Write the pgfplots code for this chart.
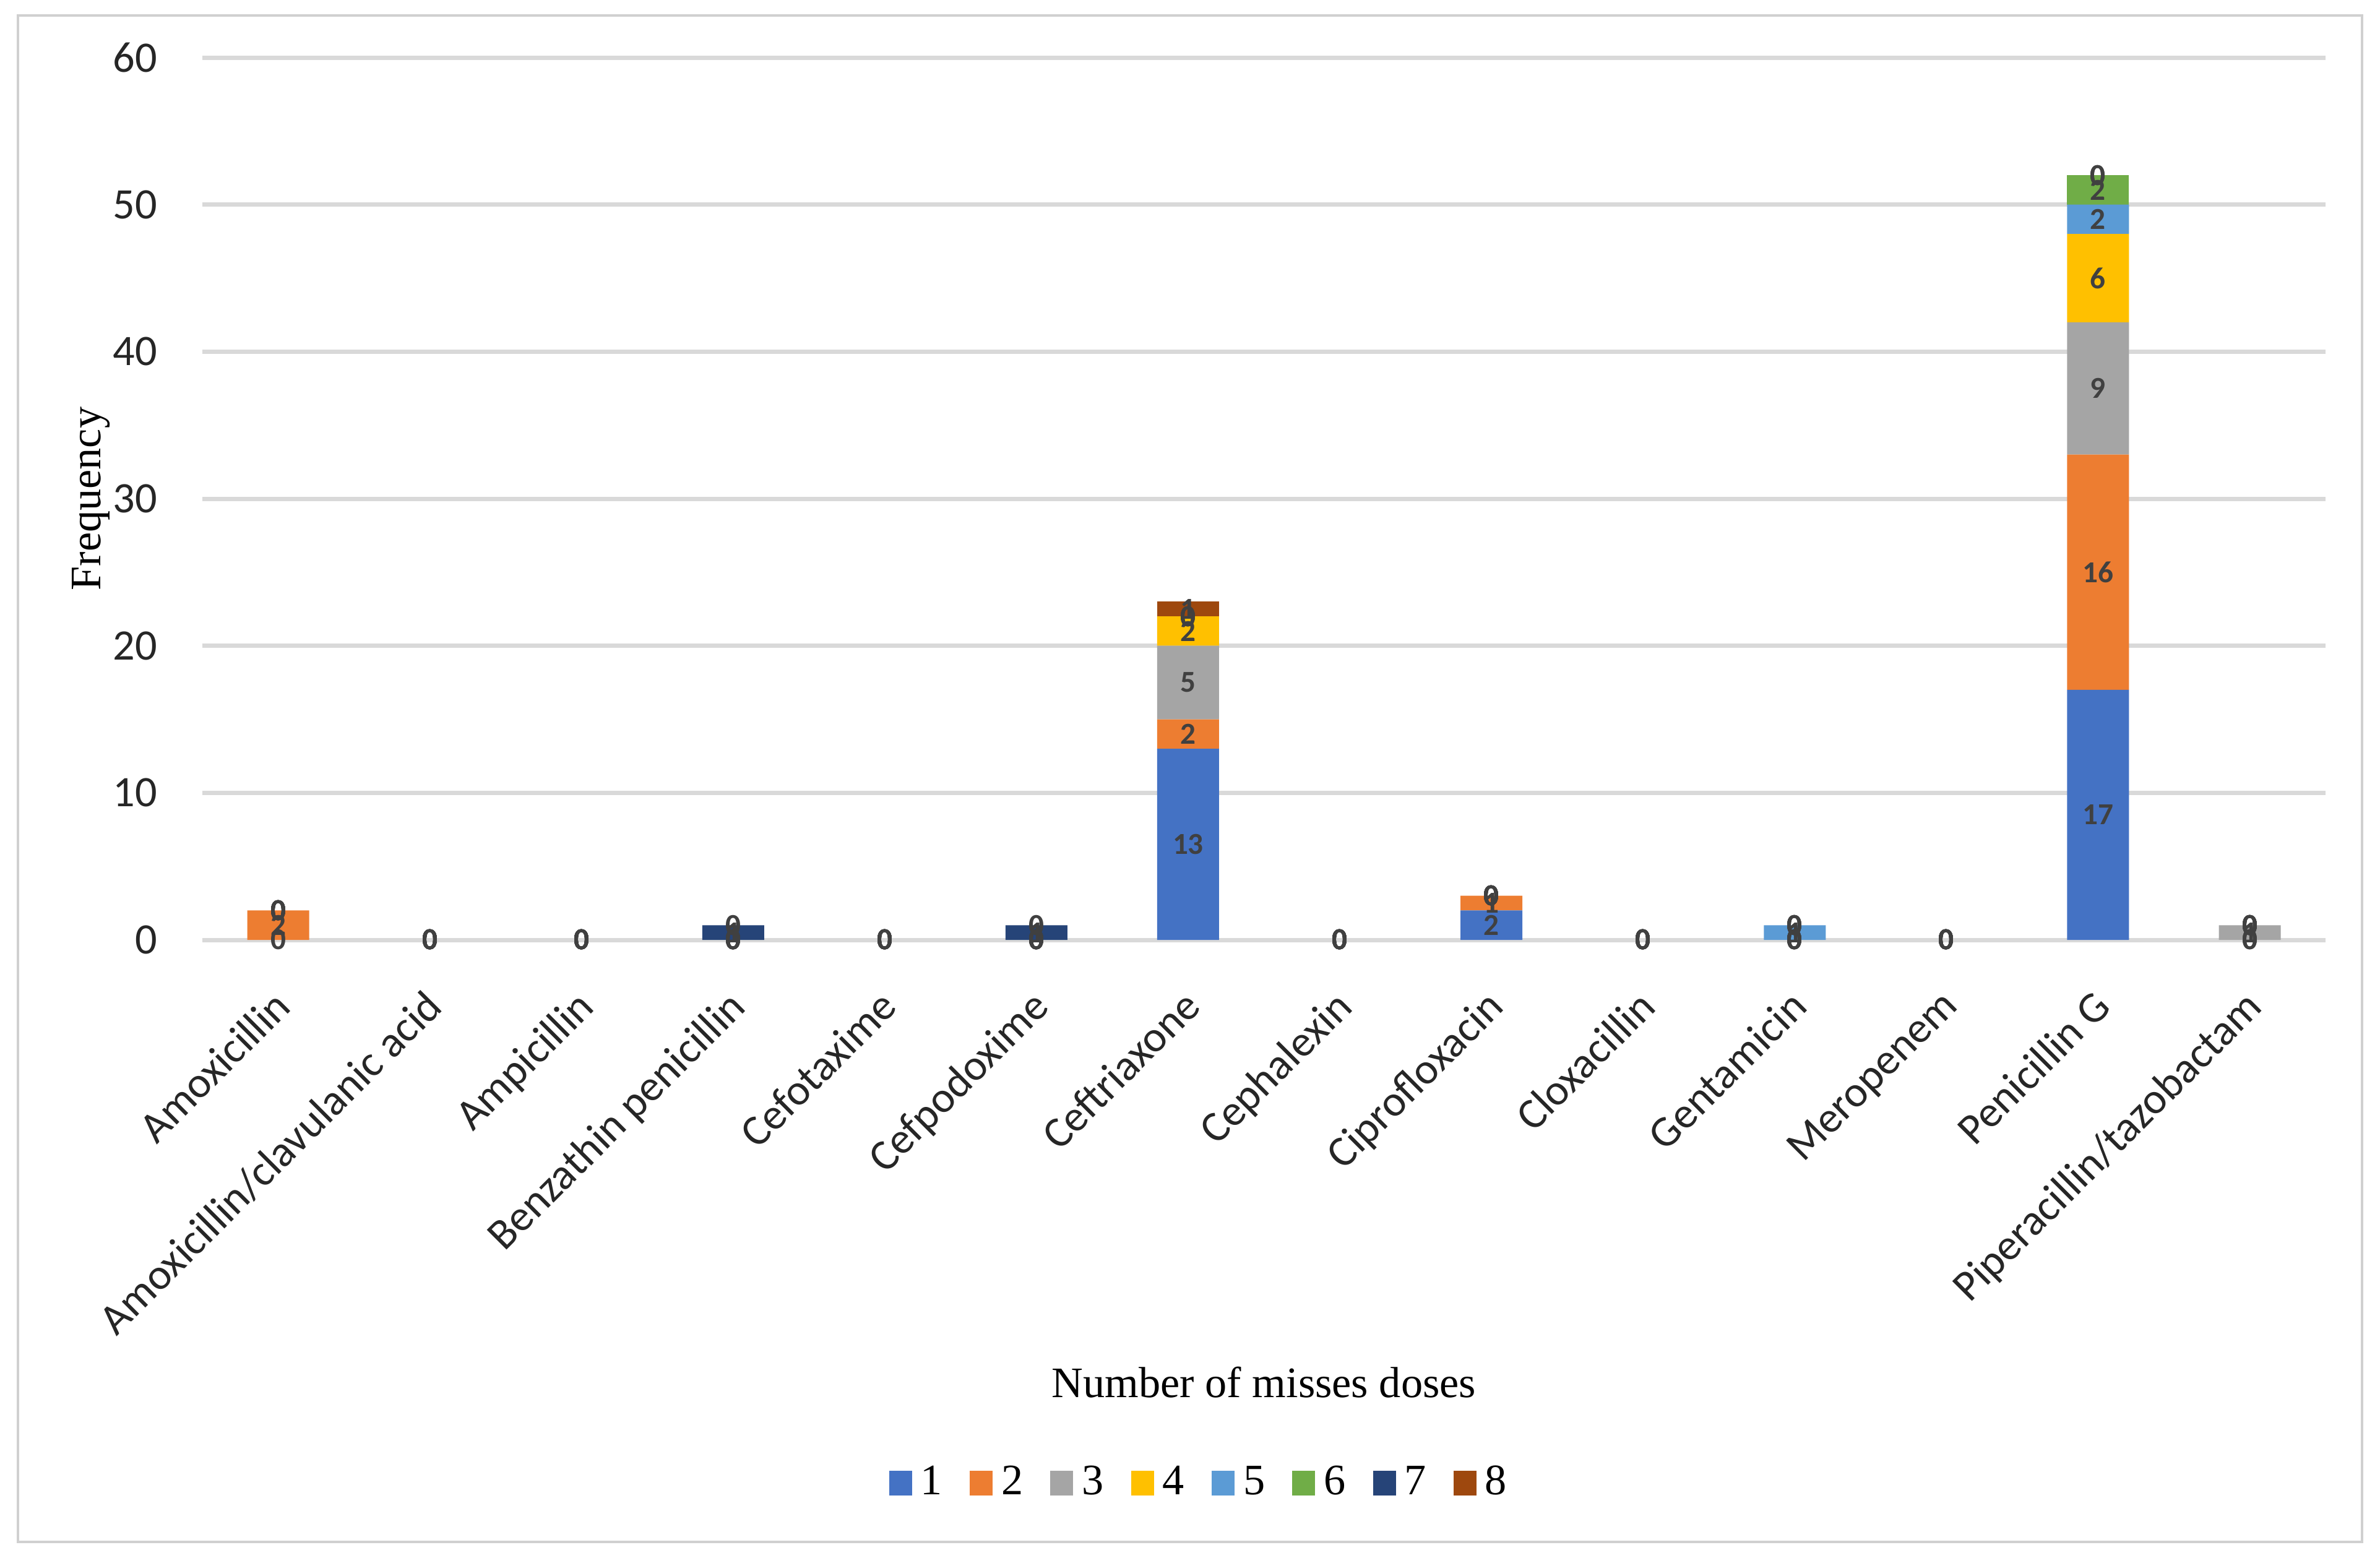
\documentclass[border=0pt]{standalone}
\usepackage{fontspec}
\setmainfont{Liberation Serif}
\newfontfamily\carlito{Carlito}
\usepackage{pgfplots}
\usepackage{pgfplotstable}
\pgfplotsset{compat=1.18}

\definecolor{c1}{HTML}{4472C4}
\definecolor{c2}{HTML}{ED7D31}
\definecolor{c3}{HTML}{A5A5A5}
\definecolor{c4}{HTML}{FFC000}
\definecolor{c5}{HTML}{5B9BD5}
\definecolor{c6}{HTML}{70AD47}
\definecolor{c7}{HTML}{264478}
\definecolor{c8}{HTML}{9E480E}
\definecolor{gridc}{HTML}{D9D9D9}
\definecolor{framec}{HTML}{D0D0D0}
\definecolor{lblc}{HTML}{404040}

\pgfplotstableread{
x s1 s2 s3 s4 s5 s6 s7 s8
0 0 2 0 0 0 0 0 0
1 0 0 0 0 0 0 0 0
2 0 0 0 0 0 0 0 0
3 0 0 0 0 0 0 1 0
4 0 0 0 0 0 0 0 0
5 0 0 0 0 0 0 1 0
6 13 2 5 2 0 0 0 1
7 0 0 0 0 0 0 0 0
8 2 1 0 0 0 0 0 0
9 0 0 0 0 0 0 0 0
10 0 0 0 0 1 0 0 0
11 0 0 0 0 0 0 0 0
12 17 16 9 6 2 2 0 0
13 0 0 1 0 0 0 0 0
}\datatable

\pgfplotsset{
  commonaxis/.style={
    scale only axis,
    width=17.155cm, height=7.13cm,
    xmin=-0.5, xmax=13.5,
    ymin=0, ymax=60,
  },
  lbl/.style={
    draw=none, mark=none,
    point meta=explicit symbolic,
    nodes near coords={\pgfplotspointmeta},
    every node near coord/.style={
      anchor=center,
      font=\carlito\bfseries\fontsize{7}{8}\selectfont,
      text=lblc,
      inner sep=0pt,
    },
  },
}

\begin{document}
\begin{tikzpicture}
\useasboundingbox (-1.635,-4.99) rectangle (17.595,7.595);
\draw[framec, line width=0.6pt] (-1.49,-4.865) rectangle (17.45,7.47);
\begin{axis}[
  commonaxis,
  ybar stacked,
  bar width=0.5cm,
  ytick={0,10,...,60},
  xtick=data,
  xticklabels={Amoxicillin,Amoxicillin/clavulanic acid,Ampicillin,Benzathin penicillin,Cefotaxime,Cefpodoxime,Ceftriaxone,Cephalexin,Ciprofloxacin,Cloxacillin,Gentamicin,Meropenem,Penicillin G,Piperacillin/tazobactam},
  axis line style={draw=none},
  major tick length=0pt,
  ymajorgrids,
  grid style={gridc, line width=1pt},
  /pgf/number format/assume math mode=true,
  ticklabel style={font=\carlito\fontsize{10}{12}\selectfont, text=black!85},
  xticklabel style={rotate=45, anchor=north east, xshift=-0.19cm, yshift=-0.11cm},
  yticklabel style={anchor=east, xshift=-0.24cm},
  every axis y label/.style={at={(axis description cs:-0.0525,0.5)}, rotate=90, anchor=center, font=\fontsize{10}{12}\selectfont},
  every axis x label/.style={at={(axis description cs:0.5,-0.5014)}, anchor=center, font=\fontsize{10}{12}\selectfont},
  ylabel={Frequency},
  xlabel={Number of misses doses},
  every axis plot/.append style={draw=none},
  legend image code/.code={\fill[#1] (0cm,-0.1cm) rectangle (0.185cm,0.1cm);},
  legend columns=8,
  legend style={
    at={(rel axis cs:0.471,-0.616)}, anchor=center,
    draw=none, fill=none,
    font=\fontsize{10}{12}\selectfont,
    /tikz/every even column/.append style={column sep=0.15cm},
  },
]
\addplot+[fill=c1] table[x=x, y=s1]{\datatable};
\addplot+[fill=c2] table[x=x, y=s2]{\datatable};
\addplot+[fill=c3] table[x=x, y=s3]{\datatable};
\addplot+[fill=c4] table[x=x, y=s4]{\datatable};
\addplot+[fill=c5] table[x=x, y=s5]{\datatable};
\addplot+[fill=c6] table[x=x, y=s6]{\datatable};
\addplot+[fill=c7] table[x=x, y=s7]{\datatable};
\addplot+[fill=c8] table[x=x, y=s8]{\datatable};
\legend{1,2,3,4,5,6,7,8}
\end{axis}
\begin{axis}[commonaxis, hide axis, clip=false]
\addplot[lbl] table[x=x, meta=s1, y expr={\thisrow{s1}/2}]{\datatable};
\addplot[lbl] table[x=x, meta=s2, y expr={\thisrow{s1}+\thisrow{s2}/2}]{\datatable};
\addplot[lbl] table[x=x, meta=s3, y expr={\thisrow{s1}+\thisrow{s2}+\thisrow{s3}/2}]{\datatable};
\addplot[lbl] table[x=x, meta=s4, y expr={\thisrow{s1}+\thisrow{s2}+\thisrow{s3}+\thisrow{s4}/2}]{\datatable};
\addplot[lbl] table[x=x, meta=s5, y expr={\thisrow{s1}+\thisrow{s2}+\thisrow{s3}+\thisrow{s4}+\thisrow{s5}/2}]{\datatable};
\addplot[lbl] table[x=x, meta=s6, y expr={\thisrow{s1}+\thisrow{s2}+\thisrow{s3}+\thisrow{s4}+\thisrow{s5}+\thisrow{s6}/2}]{\datatable};
\addplot[lbl] table[x=x, meta=s7, y expr={\thisrow{s1}+\thisrow{s2}+\thisrow{s3}+\thisrow{s4}+\thisrow{s5}+\thisrow{s6}+\thisrow{s7}/2}]{\datatable};
\addplot[lbl] table[x=x, meta=s8, y expr={\thisrow{s1}+\thisrow{s2}+\thisrow{s3}+\thisrow{s4}+\thisrow{s5}+\thisrow{s6}+\thisrow{s7}+\thisrow{s8}/2}]{\datatable};
\end{axis}
\end{tikzpicture}
\end{document}
